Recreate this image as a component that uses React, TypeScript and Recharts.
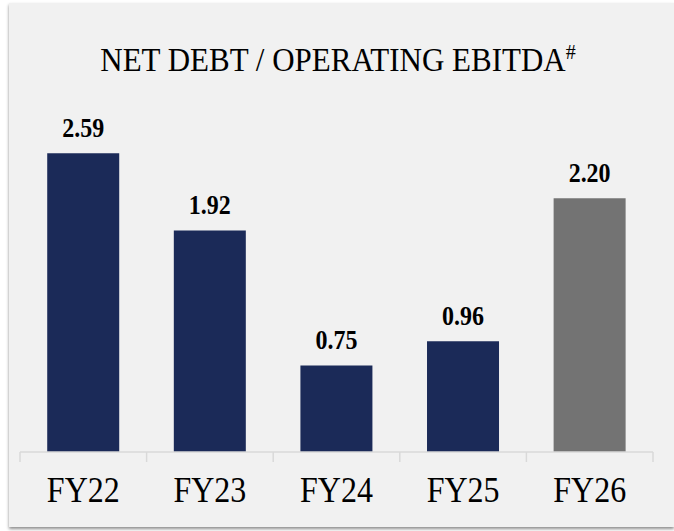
import { BarChart, Bar, XAxis, YAxis, Cell, LabelList } from 'recharts';

const categories = ['FY22', 'FY23', 'FY24', 'FY25', 'FY26'];
const ratios = [2.59, 1.92, 0.75, 0.96, 2.2];
const projectedYears = ['FY26'];

const data = categories.map((year, i) => ({ year, ratio: ratios[i] }));

const W = 674;
const H = 531;
const margin = { top: 106, right: 21, left: 20, bottom: 0 };
const xAxisHeight = 79;
const axisY = H - margin.bottom - xAxisHeight;
const band = (W - margin.left - margin.right) / categories.length;

const SERIF = "'Liberation Serif', 'Times New Roman', serif";
const STRETCH = 1.1;
const NAVY = '#1b2a58';
const GREY = '#737373';
const AXIS = '#d9d9d9';

function CategoryTick(props: any) {
  const { x, y, payload, index } = props;
  const last = index === categories.length - 1;
  return (
    <g>
      <line x1={x - band / 2} x2={x - band / 2} y1={axisY} y2={axisY + 10} stroke={AXIS} strokeWidth={1.5} />
      {last && (
        <line x1={x + band / 2} x2={x + band / 2} y1={axisY} y2={axisY + 10} stroke={AXIS} strokeWidth={1.5} />
      )}
      <text
        transform={`translate(${x},${y + 50}) scale(1,${STRETCH})`}
        textAnchor="middle"
        style={{ fontFamily: SERIF, fontSize: 32 }}
        fill="#000"
      >
        {payload.value}
      </text>
    </g>
  );
}

function ValueLabel(props: any) {
  const { x, y, width, value } = props;
  return (
    <text
      transform={`translate(${x + width / 2},${y - 16.5}) scale(1,${STRETCH})`}
      textAnchor="middle"
      style={{ fontFamily: SERIF, fontSize: 24, fontWeight: 'bold' }}
      fill="#000"
    >
      {Number(value).toFixed(2)}
    </text>
  );
}

export default function App() {
  return (
    <div style={{ position: 'absolute', left: 0, top: 0, width: W, height: H, background: '#fff', overflow: 'hidden' }}>
      <div
        style={{
          position: 'absolute',
          left: 9,
          top: 3,
          width: 665,
          height: 524,
          background: '#f1f1f1',
          boxShadow: '0 2px 3px rgba(0,0,0,0.45)',
        }}
      />
      <svg width={W} height={H} style={{ position: 'absolute', left: 0, top: 0 }}>
        <text
          transform={`translate(338,71) scale(1,${STRETCH})`}
          textAnchor="middle"
          style={{ fontFamily: SERIF, fontSize: 31 }}
          fill="#000"
        >
          NET DEBT / OPERATING EBITDA
          <tspan style={{ fontSize: 20 }} dy={-11}>#</tspan>
        </text>
      </svg>
      <div style={{ position: 'absolute', left: 0, top: 0 }}>
        <BarChart width={W} height={H} data={data} margin={margin} barCategoryGap="21.5%">
          <XAxis
            dataKey="year"
            height={xAxisHeight}
            axisLine={{ stroke: AXIS, strokeWidth: 1.5 }}
            tickLine={false}
            tickSize={0}
            tickMargin={0}
            interval={0}
            tick={<CategoryTick />}
          />
          <YAxis hide domain={[0, 3]} width={0} />
          <Bar dataKey="ratio" isAnimationActive={false}>
            {data.map((d) => (
              <Cell key={d.year} fill={projectedYears.includes(d.year) ? GREY : NAVY} />
            ))}
            <LabelList dataKey="ratio" content={<ValueLabel />} />
          </Bar>
        </BarChart>
      </div>
    </div>
  );
}
